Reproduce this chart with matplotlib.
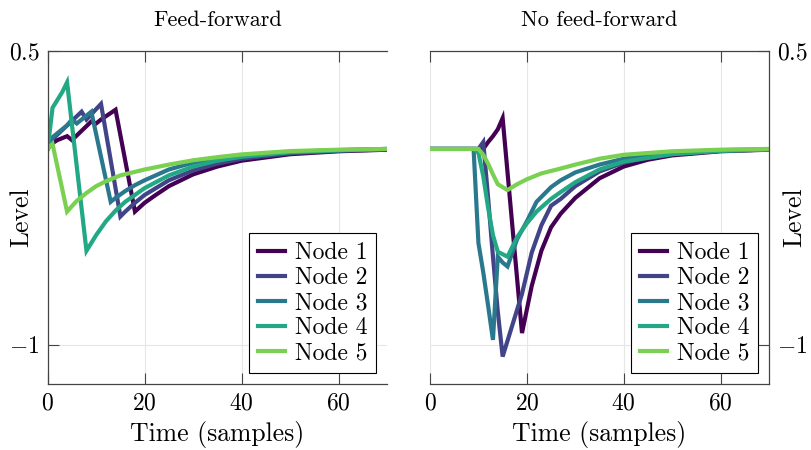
import matplotlib
matplotlib.use("Agg")
import matplotlib.pyplot as plt

node_labels = ["Node 1", "Node 2", "Node 3", "Node 4", "Node 5"]
node_colors = ["#440154", "#414487", "#2a788e", "#22a884", "#7ad151"]

# Feed-forward (left panel)
ff_t1 = [0, 1, 2, 4, 5, 9, 10, 11, 14, 18, 20, 22, 25, 30, 35, 40, 50, 60, 70]
ff_y1 = [0, 0.03, 0.045, 0.065, 0.045, 0.14, 0.13, 0.15, 0.20, -0.32, -0.275, -0.24,
         -0.19, -0.13, -0.09, -0.06, -0.027, -0.012, -0.004]
ff_t2 = [0, 1, 4, 7, 8, 11, 15, 16, 18, 20, 25, 30, 35, 40, 50, 60, 70]
ff_y2 = [0, 0.05, 0.12, 0.19, 0.15, 0.23, -0.345, -0.32, -0.275, -0.235, -0.16, -0.11,
         -0.075, -0.05, -0.022, -0.01, -0.003]
ff_t3 = [0, 1, 4, 5, 6, 9, 13, 14, 16, 18, 20, 25, 30, 35, 40, 50, 60, 70]
ff_y3 = [0, 0.06, 0.12, 0.15, 0.13, 0.19, -0.27, -0.25, -0.215, -0.185, -0.16, -0.105,
         -0.07, -0.048, -0.035, -0.015, -0.006, 0]
ff_t4 = [0, 1, 2, 3, 4, 8, 10, 12, 14, 16, 20, 25, 30, 35, 40, 50, 60, 70]
ff_y4 = [0, 0.21, 0.25, 0.29, 0.34, -0.52, -0.44, -0.37, -0.315, -0.27, -0.20, -0.135,
         -0.09, -0.06, -0.04, -0.017, -0.007, 0]
ff_t5 = [0, 1, 4, 6, 8, 10, 12, 15, 20, 25, 30, 35, 40, 50, 60, 70]
ff_y5 = [0, 0.025, -0.32, -0.265, -0.225, -0.19, -0.165, -0.135, -0.105, -0.08, -0.058,
         -0.042, -0.028, -0.011, -0.004, 0]

# No feed-forward (right panel)
nf_t1 = [0, 11, 12, 13, 14, 15, 19, 21, 23, 25, 27, 30, 35, 40, 45, 50, 60, 70]
nf_y1 = [0, 0, 0.035, 0.065, 0.10, 0.157, -0.94, -0.70, -0.52, -0.40, -0.33, -0.25,
         -0.15, -0.09, -0.055, -0.033, -0.012, -0.004]
nf_t2 = [0, 10, 11, 12, 13, 14, 15, 17, 19, 21, 23, 25, 27, 30, 35, 40, 45, 50, 60, 70]
nf_y2 = [0, 0, 0.035, -0.25, -0.55, -0.83, -1.06, -0.90, -0.74, -0.53, -0.39, -0.29,
         -0.255, -0.19, -0.115, -0.07, -0.043, -0.026, -0.01, -0.003]
nf_t3 = [0, 9, 10, 11, 12, 13, 14, 15, 16, 18, 20, 22, 25, 27, 30, 35, 40, 45, 50, 60, 70]
nf_y3 = [0, 0, -0.48, -0.63, -0.80, -0.975, -0.55, -0.58, -0.60, -0.46, -0.37, -0.27,
         -0.195, -0.16, -0.12, -0.08, -0.05, -0.03, -0.018, -0.006, -0.002]
nf_t4 = [0, 9, 10, 11, 12, 13, 14, 16, 18, 20, 22, 25, 27, 30, 35, 40, 50, 60, 70]
nf_y4 = [0, 0, -0.02, -0.14, -0.30, -0.44, -0.525, -0.55, -0.45, -0.38, -0.32, -0.255,
         -0.22, -0.17, -0.105, -0.065, -0.027, -0.01, -0.003]
nf_t5 = [0, 10, 11, 12, 13, 14, 16, 18, 20, 23, 27, 30, 35, 40, 50, 60, 70]
nf_y5 = [0, 0, -0.03, -0.075, -0.13, -0.18, -0.21, -0.18, -0.155, -0.125, -0.10, -0.08,
         -0.05, -0.03, -0.012, -0.004, 0]

x_ticks = [0, 20, 40, 60]
x_tick_labels = ["$0$", "$20$", "$40$", "$60$"]
y_ticks = [0.5, -1]
y_tick_labels = ["$0.5$", "$-1$"]

plt.rcParams["font.family"] = ["cmr10", "DejaVu Serif"]
plt.rcParams["mathtext.fontset"] = "cm"
plt.rcParams["axes.unicode_minus"] = False


def style_axes(ax, side):
    ax.set_xlim(0, 70)
    ax.set_ylim(-1.2, 0.5)
    ax.set_xticks(x_ticks)
    ax.set_xticklabels(x_tick_labels)
    ax.set_yticks(y_ticks)
    ax.set_yticklabels(y_tick_labels)
    ax.grid(True, color="#e6e6e6", linewidth=0.8)
    ax.set_axisbelow(True)
    ax.tick_params(direction="in", length=8, width=0.8, color="#444444",
                   labelsize=17, top=True, bottom=True, pad=6)
    for s in ax.spines.values():
        s.set_color("#444444")
        s.set_linewidth(0.9)
    ax.set_xlabel("Time (samples)", fontsize=18.5, labelpad=5)
    if side == "left":
        ax.spines["right"].set_visible(False)
        ax.tick_params(axis="y", left=True, right=False, labelleft=True, labelright=False)
        ax.set_ylabel("Level", fontsize=18.5, rotation=90)
        ax.yaxis.set_label_coords(-0.043, 0.5)
    else:
        ax.spines["left"].set_visible(False)
        ax.tick_params(axis="y", left=False, right=True, labelleft=False, labelright=True)
        ax.yaxis.set_label_position("right")
        ax.set_ylabel("Level", fontsize=18.5, rotation=90)
        ax.yaxis.set_label_coords(1.040, 0.5)


fig = plt.figure(figsize=(8.11, 4.5), dpi=100)
ax1 = fig.add_axes([0.0588, 0.1467, 0.4184, 0.74])
ax2 = fig.add_axes([0.5302, 0.1467, 0.4180, 0.74])

ff = [(ff_t1, ff_y1), (ff_t2, ff_y2), (ff_t3, ff_y3), (ff_t4, ff_y4), (ff_t5, ff_y5)]
nf = [(nf_t1, nf_y1), (nf_t2, nf_y2), (nf_t3, nf_y3), (nf_t4, nf_y4), (nf_t5, nf_y5)]

for ax, series, title, side in [(ax1, ff, "Feed-forward", "left"),
                                (ax2, nf, "No feed-forward", "right")]:
    for (t, y), c, lab in zip(series, node_colors, node_labels):
        ax.plot(t, y, color=c, linewidth=3, label=lab, solid_joinstyle="miter")
    style_axes(ax, side)
    ax.set_title(title, fontsize=16, pad=18)
    leg = ax.legend(loc="lower right", bbox_to_anchor=(0.968, 0.033), fontsize=17,
                    frameon=True, fancybox=False, handlelength=1.15, handletextpad=0.4,
                    borderpad=0.38, labelspacing=0.12, borderaxespad=0)
    leg.get_frame().set_edgecolor("black")
    leg.get_frame().set_linewidth(0.8)
    leg.get_frame().set_alpha(1)

fig.savefig("out.png", dpi=100)
